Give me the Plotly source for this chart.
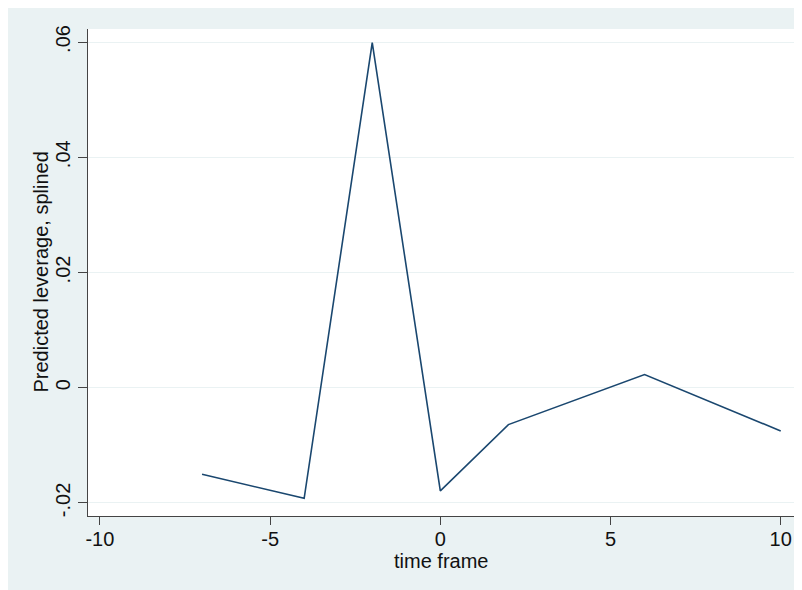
import plotly.graph_objects as go

# Data
time_frame = [-7, -4, -2, 0, 2, 6, 10]
leverage = [-0.0150, -0.0192, 0.0599, -0.0179, -0.0064, 0.0023, -0.0075]

x_ticks = [-10, -5, 0, 5, 10]
x_tick_labels = ["-10", "-5", "0", "5", "10"]
y_ticks = [-0.02, 0.0, 0.02, 0.04, 0.06]
y_tick_labels = ["-.02", "0", ".02", ".04", ".06"]

x_title = "time frame"
y_title = "Predicted leverage, splined"

W, H = 794, 582
L, R, T, B = 80, 8, 21, 74

bg = "#eaf2f3"
font = "Liberation Sans, Arial, sans-serif"

fig = go.Figure()
fig.add_trace(go.Scatter(
    x=time_frame, y=leverage, mode="lines",
    line=dict(color="#1a476f", width=1.6),
    showlegend=False, hoverinfo="x+y",
))

fig.update_layout(
    width=W, height=H,
    margin=dict(l=L, r=R, t=T, b=B, pad=0),
    paper_bgcolor=bg, plot_bgcolor="white",
    font=dict(family=font, size=20, color="#111"),
    xaxis=dict(
        range=[-10.35, 10.39],
        tickvals=x_ticks, ticktext=x_tick_labels,
        ticks="outside", ticklen=8, tickwidth=1, tickcolor="#444",
        ticklabelstandoff=-3,
        showline=True, linecolor="#444", linewidth=1,
        showgrid=False, zeroline=False,
        tickfont=dict(size=20),
    ),
    yaxis=dict(
        range=[-0.02226, 0.06226],
        tickvals=y_ticks, ticktext=y_tick_labels,
        tickangle=-90,
        ticks="outside", ticklen=9, tickwidth=1, tickcolor="#444",
        showline=True, linecolor="#444", linewidth=1,
        showgrid=True, gridcolor=bg, gridwidth=1,
        zeroline=False,
        tickfont=dict(size=20),
    ),
    annotations=[
        dict(text=x_title, xref="paper", yref="paper", x=0.5, y=0,
             xanchor="center", yanchor="middle", yshift=-45,
             showarrow=False, font=dict(size=20)),
        dict(text=y_title, xref="paper", yref="paper", x=0, y=0.5,
             xanchor="center", yanchor="middle", xshift=-48, textangle=-90,
             showarrow=False, font=dict(size=20)),
    ],
)

fig.write_html("out.html")
